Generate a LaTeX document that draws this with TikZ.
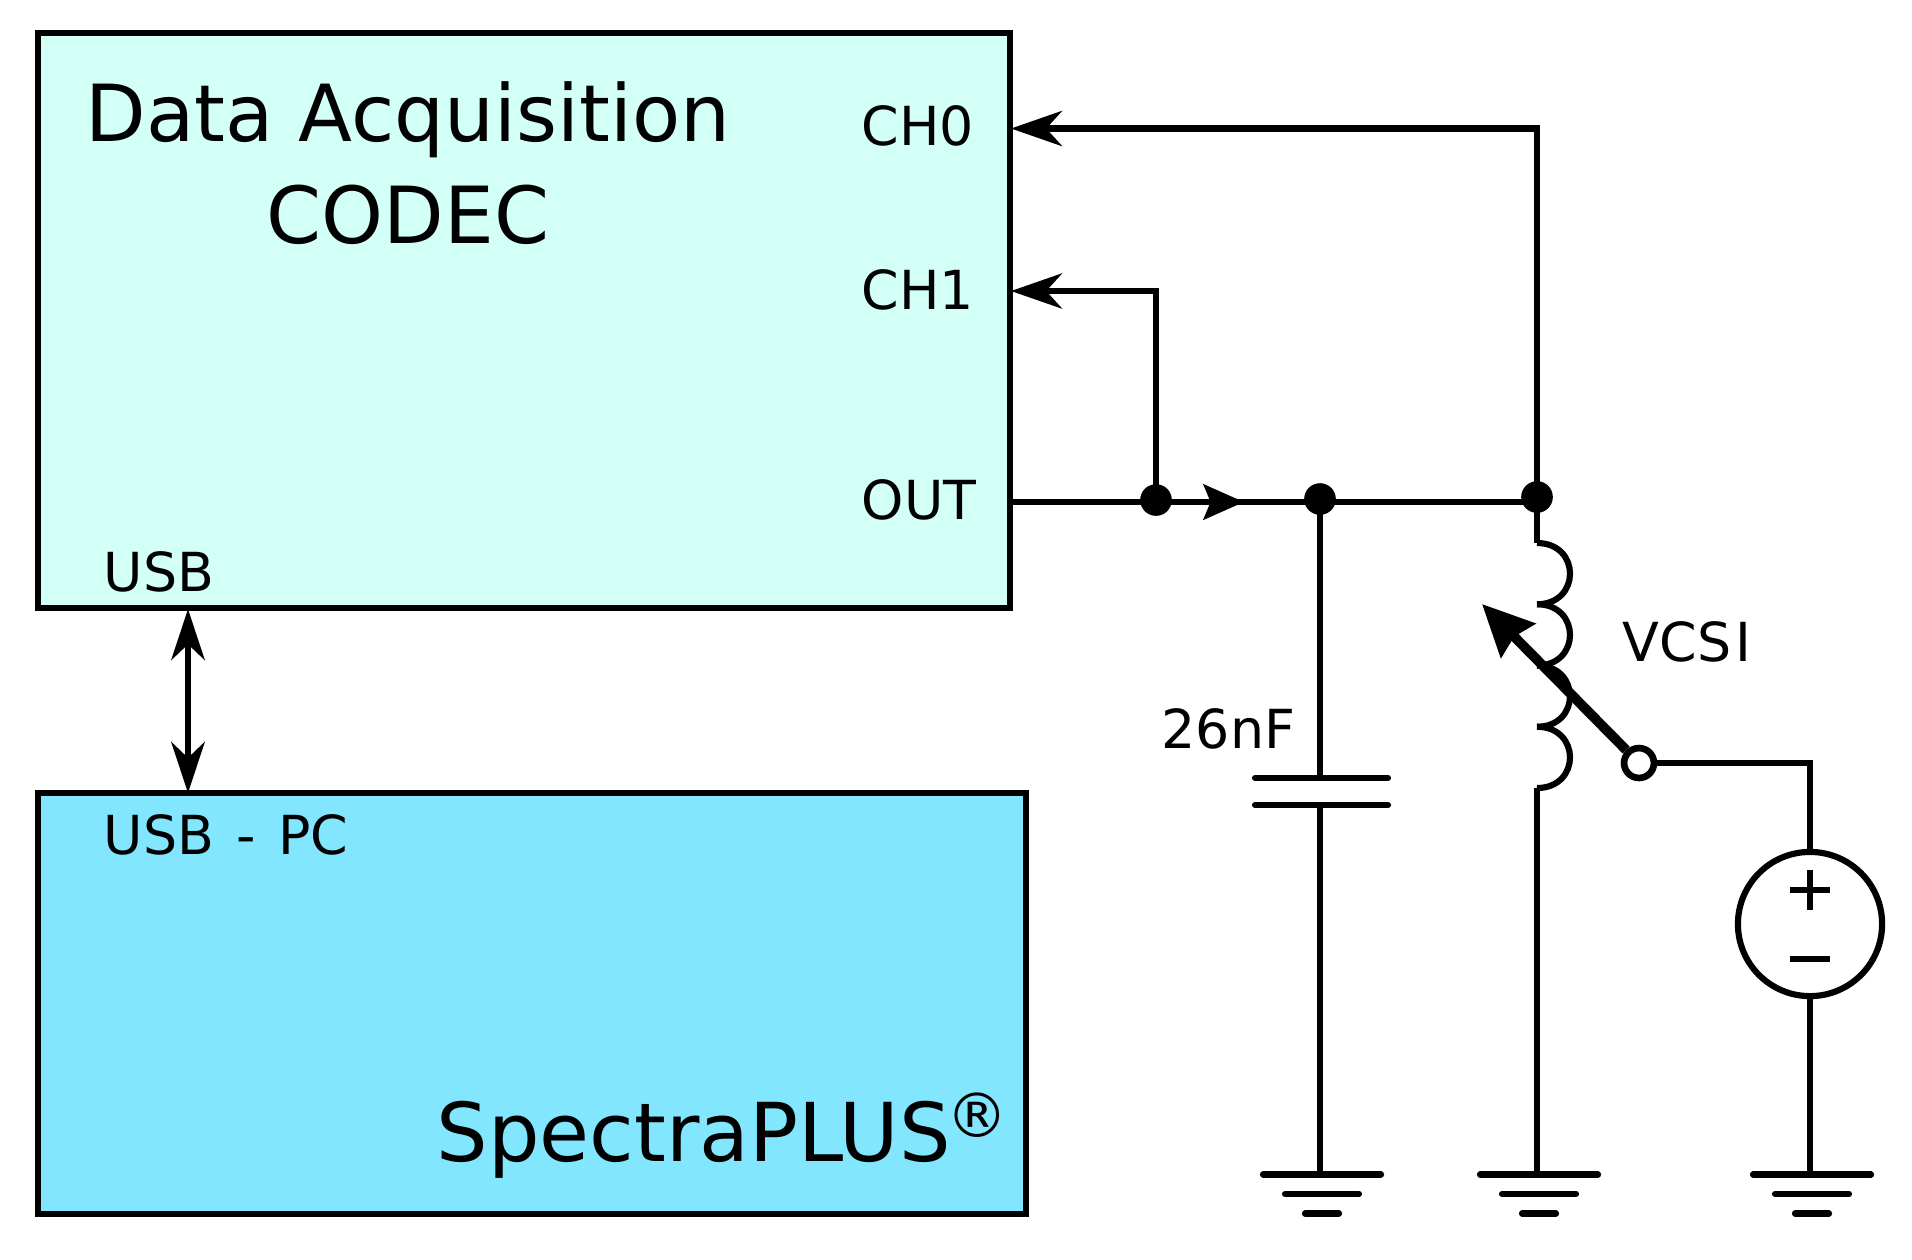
\documentclass[tikz,border=0pt]{standalone}
\usepackage{fontspec}
\setmainfont{DejaVu Sans}
\usetikzlibrary{arrows.meta}

\tikzset{
    wire/.style={line width=1.75pt},
    feed/.style={wire, -{Stealth[length=14.5pt, width=10pt, inset=4.5pt]}},
    usblink/.style={wire, {Stealth[length=14.5pt, width=9.5pt, inset=4.5pt]}-{Stealth[length=14.5pt, width=9.5pt, inset=4.5pt]}},
    block/.style={draw, line width=1.8pt, inner sep=0pt, outer sep=0pt},
    dot/.style={circle, fill=black, inner sep=0pt, minimum size=9pt},
    bigtext/.style={anchor=base west, inner sep=0pt, font=\fontsize{22.4}{26}\selectfont},
    smalltext/.style={anchor=base west, inner sep=0pt, font=\fontsize{15.3}{18}\selectfont},
    ground/.pic={
        \draw[wire, line cap=round] (-59,0) -- (59,0);
        \draw[wire, line cap=round] (-37,19.5) -- (37,19.5);
        \draw[wire, line cap=round] (-17,39) -- (17,39);
    }
}

\begin{document}
\begin{tikzpicture}[x=0.01cm, y=-0.01cm]
        % Farben der Bloecke
        \definecolor{daqcolor}{RGB}{210, 255, 246}
        \definecolor{pccolor}{RGB}{130, 230, 255}

        \useasboundingbox (0, 0) rectangle (1912, 1259);

        % Bloecke
        \node[block, fill=daqcolor, minimum width=9.715cm, minimum height=5.75cm] (daq) at (524.25, 320.5) {};
        \node[block, fill=pccolor, minimum width=9.875cm, minimum height=4.21cm] (pc) at (532.25, 1003.5) {};

        % Beschriftung der Bloecke
        \node[bigtext] (daqtitle) at (85, 141) {Data Acquisition};
        \node[bigtext] (codectitle) at (266, 243) {CODEC};
        \node[bigtext, font=\fontsize{23.1}{26}\selectfont] (spectra) at (436, 1161) {SpectraPLUS\kern-1.2pt\raisebox{6.7pt}{\fontsize{17.5}{17}\selectfont ®}};
        \node[smalltext] (chzero) at (861, 145) {CH0};
        \node[smalltext] (chone) at (861, 309) {CH1};
        \node[smalltext] (out) at (861, 519) {OUT};
        \node[smalltext] (usb) at (103, 591) {USB};
        \node[smalltext] (usbpc) at (103, 854.5) {USB\kern1.5pt{} -\kern1.5pt{} PC};
        \node[smalltext] (cval) at (1161, 748) {26nF};
        \node[smalltext] (vcsi) at (1622, 661) {VCS\kern1.2pt I};

        % Knoten
        \coordinate (portzero) at (1011, 128.5);
        \coordinate (portone) at (1011, 291);
        \coordinate (portout) at (1010, 502);
        \coordinate (usbtop) at (188, 609);
        \coordinate (usbbot) at (188, 793);
        \node[dot] (ja) at (1156, 500) {};
        \node[dot] (jb) at (1320, 499) {};
        \node[dot] (jc) at (1537, 497) {};
        \coordinate (busend) at (1537, 502);
        \coordinate (arrowbase) at (1156, 502);
        \coordinate (arrowtip) at (1244, 502);
        \coordinate (cornerzero) at (1537, 128.5);
        \coordinate (cornerone) at (1156, 291);

        % Leitungen
        \draw[feed] (jc.center) -- (cornerzero) -- (portzero);
        \draw[feed] (ja.center) -- (cornerone) -- (portone);
        \draw[wire] (portout) -- (busend);
        \draw[wire, -{Stealth[length=11.5pt, width=10pt, inset=2pt]}] (arrowbase) -- (arrowtip);
        \draw[usblink] (usbtop) -- (usbbot);

        % Kondensator
        \coordinate (capup) at (1320, 778);
        \coordinate (capdown) at (1320, 805);
        \coordinate (gnda) at (1320, 1174.5);
        \draw[wire] (jb.center) -- (capup);
        \draw[wire] (capdown) -- (gnda);
        \draw[wire, line cap=round] (1255, 778) -- (1388, 778);
        \draw[wire, line cap=round] (1255, 805) -- (1388, 805);

        % Spule
        \coordinate (coiltop) at (1537, 543);
        \coordinate (coilbot) at (1537, 788);
        \coordinate (gndb) at (1537, 1174.5);
        \draw[wire] (jc.center) -- (coiltop);
        \foreach \y in {543, 604.25, 665.5, 726.75} {
            \draw[wire] (1537, \y) .. controls (1581, \y) and (1581, \y+61.25) .. (1537, \y+61.25);
        }
        \draw[wire] (coilbot) -- (gndb);

        % Schleifer
        \node[circle, draw, fill=white, line width=1.9pt, inner sep=0pt, minimum size=8.5pt] (wiper) at (1639, 763) {};
        \coordinate (wipertip) at (1482, 604);
        \draw[line width=2.8pt, -{Stealth[length=14.5pt, width=13.5pt, inset=1.5pt]}] (wiper) -- (wipertip);

        % Quelle
        \node[circle, draw, line width=1.75pt, inner sep=0pt, minimum size=41pt] (src) at (1810, 924) {};
        \coordinate (srccorner) at (1810, 763);
        \coordinate (gndc) at (1810, 1174.5);
        \draw[wire] (wiper) -- (srccorner) -- (src.north);
        \draw[wire] (src.south) -- (gndc);
        \draw[wire] (1790, 890) -- (1830, 890);
        \draw[wire] (1810, 870) -- (1810, 910);
        \draw[wire] (1790, 959) -- (1830, 959);

        % Masse
        \pic at (1322, 1174.5) {ground};
        \pic at (1539, 1174.5) {ground};
        \pic at (1812, 1174.5) {ground};
    \end{tikzpicture}
\end{document}
